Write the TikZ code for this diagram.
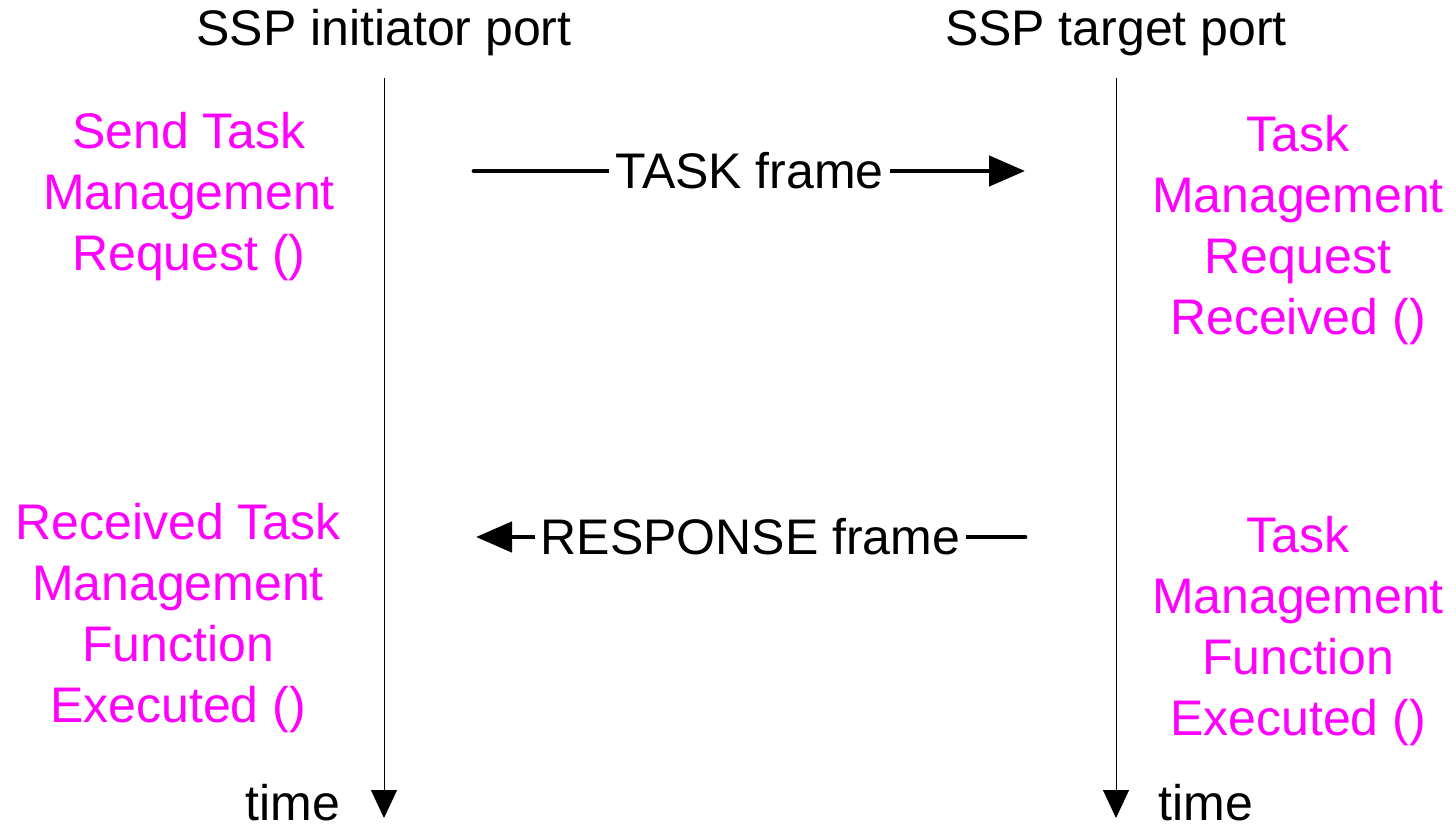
\documentclass[tikz,border=0pt]{standalone}
\usepackage{fontspec}
\setmainfont{Liberation Sans}
\usetikzlibrary{arrows.meta}
\definecolor{evt}{RGB}{255,0,255}
\begin{document}
\begin{tikzpicture}[x=0.5pt,y=-0.5pt,
  every node/.style={inner sep=0pt},
  hdr/.style={font=\fontsize{25}{30.5}\selectfont},
  evtxt/.style={font=\fontsize{25}{30.5}\selectfont, text=evt, align=center},
  lifeline/.style={line width=0.5pt, -{Triangle[length=14pt,width=13pt]}},
  msg/.style={line width=2.4pt, line cap=round, -{Triangle[length=18pt,width=15pt]}},
  msglabel/.style={font=\fontsize{25}{30.5}\selectfont, fill=white, inner xsep=3pt, inner ysep=2pt}]
  \useasboundingbox (0,0) rectangle (1456,831);

  % port headers
  \node[hdr] (ini) at (384,33) {SSP initiator port};
  \node[hdr] (tgt) at (1116,33) {SSP target port};

  % life lines
  \coordinate (iniTop) at (384,78);
  \coordinate (iniBot) at (384,818);
  \coordinate (tgtTop) at (1116,78);
  \coordinate (tgtBot) at (1116,818);
  \draw[lifeline] (iniTop) -- (iniBot);
  \draw[lifeline] (tgtTop) -- (tgtBot);
  \node[hdr] (tini) at (293,803) {time};
  \node[hdr] (ttgt) at (1206,803) {time};

  % events
  \node[evtxt] (send) at (189,197) {Send Task\\Management\\Request ()};
  \node[evtxt] (recv) at (1298,230) {Task\\Management\\Request\\Received ()};
  \node[evtxt] (done) at (178,618) {Received Task\\Management\\Function\\Executed ()};
  \node[evtxt] (exec) at (1298,631) {Task\\Management\\Function\\Executed ()};

  % frames
  \coordinate (taskA) at (474,171);
  \coordinate (taskB) at (1025,171);
  \coordinate (respA) at (1025,537);
  \coordinate (respB) at (476,537);
  \draw[msg] (taskA) -- node[msglabel] (taskf) {TASK frame} (taskB);
  \draw[msg] (respA) -- node[msglabel] (respf) {RESPONSE frame} (respB);
\end{tikzpicture}
\end{document}
